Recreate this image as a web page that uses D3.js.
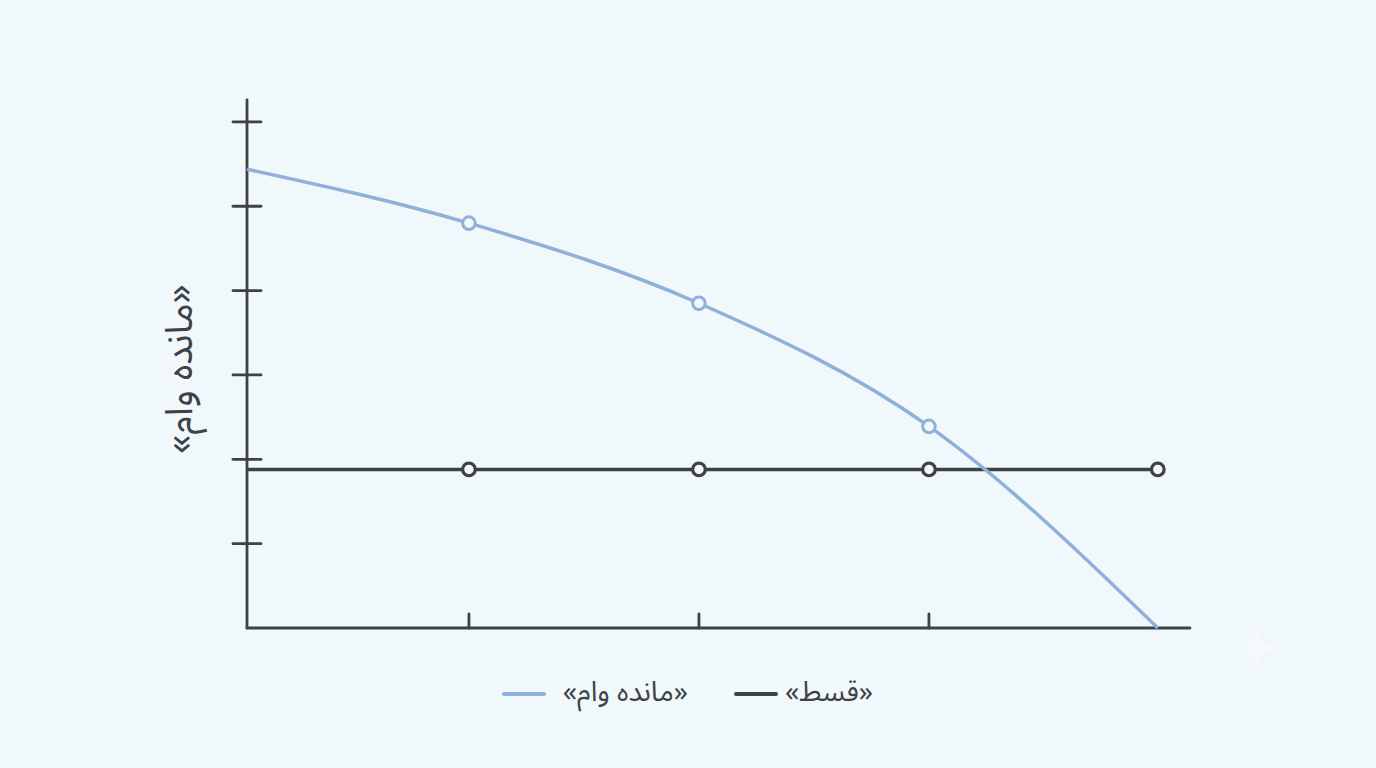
<!DOCTYPE html>
<html>
<head>
<meta charset="utf-8">
<script src="https://cdn.jsdelivr.net/npm/d3@7"></script>
<style>
  html, body { margin: 0; padding: 0; background: #f1f8fc; }
  svg { display: block; }
  text { font-family: "Noto Sans Arabic", "DejaVu Sans", sans-serif; fill: #3d4248; }
</style>
</head>
<body>
<svg id="chart" width="1376" height="768"></svg>
<script>
// ---- data ----
const periods = [0, 0.965, 1.965, 2.965, 3.96];
const balance = [5.44, 4.80, 3.85, 2.39, 0];
const installment = [1.88, 1.88, 1.88, 1.88, 1.88];
const yTicks = [0, 1, 2, 3, 4, 5, 6];
const xTicks = [0.965, 1.965, 2.965];
const yLabel = "«مانده وام»";
const seriesNames = ["«مانده وام»", "«قسط»"];

// ---- layout ----
const W = 1376, H = 768;
const mLeft = 247, mRight = 1190, mTop = 100, mBottom = 628;
const blue = "#8fb0d8", dark = "#3d4248";

const svg = d3.select("#chart");
svg.append("rect").attr("width", W).attr("height", H).attr("fill", "#f1f8fc");

const x = d3.scaleLinear().domain([0, 4.1]).range([mLeft, mRight]);
const y = d3.scaleLinear().domain([0, 6.26]).range([mBottom, mTop]);

// axes
const axisG = svg.append("g").attr("stroke", dark).attr("stroke-width", 2.8).attr("stroke-linecap", "round");
axisG.append("line").attr("x1", x(0)).attr("x2", x(0)).attr("y1", y(6.26)).attr("y2", y(0));
axisG.append("line").attr("x1", x(0)).attr("x2", x(4.1)).attr("y1", y(0)).attr("y2", y(0));
axisG.selectAll(".yt").data(yTicks.filter(d => d > 0)).join("line")
  .attr("x1", x(0) - 14).attr("x2", x(0) + 14)
  .attr("y1", d => y(d)).attr("y2", d => y(d));
axisG.selectAll(".xt").data(xTicks).join("line")
  .attr("x1", d => x(d)).attr("x2", d => x(d))
  .attr("y1", y(0) - 14).attr("y2", y(0));

// lines
svg.append("path").datum(installment)
  .attr("d", d3.line().x((d, i) => x(periods[i])).y(d => y(d)))
  .attr("fill", "none").attr("stroke", dark).attr("stroke-width", 3.5);
svg.append("path").datum(balance)
  .attr("d", d3.line().x((d, i) => x(periods[i])).y(d => y(d)).curve(d3.curveMonotoneX))
  .attr("fill", "none").attr("stroke", blue).attr("stroke-width", 3.5);

// markers
svg.selectAll(".bm").data(balance.slice(1, 4)).join("circle")
  .attr("cx", (d, i) => x(periods[i + 1])).attr("cy", d => y(d)).attr("r", 6.3)
  .attr("fill", "#f1f8fc").attr("stroke", blue).attr("stroke-width", 3);
svg.selectAll(".im").data(installment.slice(1)).join("circle")
  .attr("cx", (d, i) => x(periods[i + 1])).attr("cy", d => y(d)).attr("r", 6.3)
  .attr("fill", "#f1f8fc").attr("stroke", dark).attr("stroke-width", 3.2);

// y label
svg.append("text")
  .attr("transform", `translate(${182},${369}) rotate(-90)`)
  .attr("text-anchor", "middle").attr("dominant-baseline", "middle")
  .attr("direction", "ltr")
  .attr("font-size", 38)
  .text(yLabel);

// legend
const legend = [
  { name: seriesNames[0], color: blue, x1: 504, x2: 544, tx: 688 },
  { name: seriesNames[1], color: dark, x1: 736, x2: 776, tx: 873 }
];
const lg = svg.append("g");
legend.forEach(l => {
  lg.append("line").attr("x1", l.x1).attr("x2", l.x2).attr("y1", 694).attr("y2", 694)
    .attr("stroke", l.color).attr("stroke-width", 4).attr("stroke-linecap", "round");
  lg.append("text").attr("x", l.tx).attr("y", 693)
    .attr("text-anchor", "end").attr("direction", "ltr")
    .attr("dominant-baseline", "middle").attr("font-size", 28)
    .text(l.name);
});

// faint sparkle watermark
svg.append("path")
  .attr("d", "M1258,628 Q1260,646 1278,648 Q1260,650 1258,668 Q1256,650 1238,648 Q1256,646 1258,628 Z")
  .attr("fill", "#ffffff").attr("opacity", 0.35);
</script>
</body>
</html>
